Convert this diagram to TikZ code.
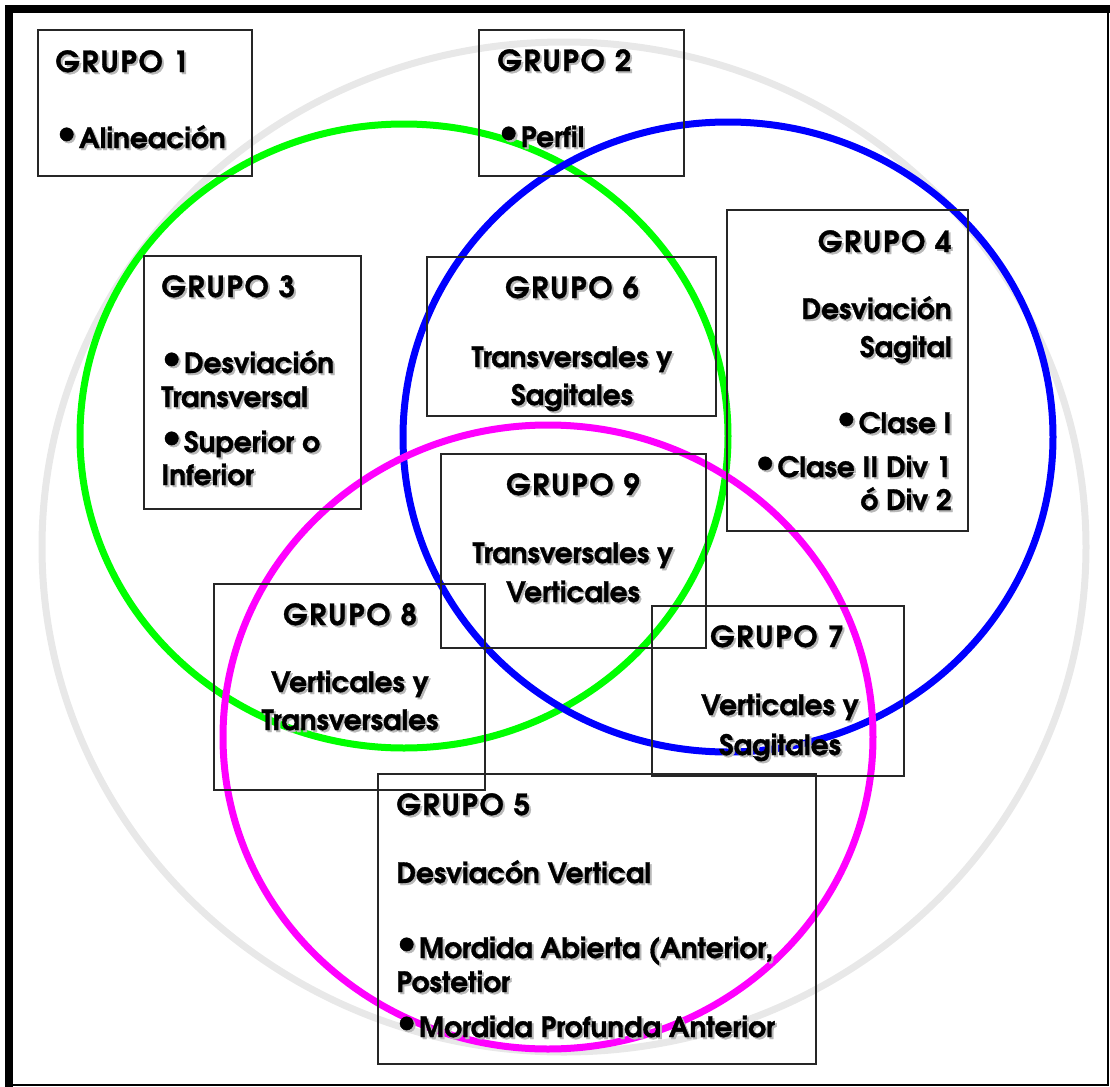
\documentclass[tikz,border=0pt]{standalone}
\usepackage{fontspec}
\setmainfont{TeX Gyre Adventor}[BoldFeatures={FakeBold=1.2}]
\usetikzlibrary{fit}
\definecolor{vgreen}{HTML}{00FF00}
\definecolor{vblue}{HTML}{0000FF}
\definecolor{vmagenta}{HTML}{FF00FF}
\definecolor{vgrey}{HTML}{E8E8E8}
\definecolor{vshadow}{HTML}{B8B8B8}
\tikzset{
  x=0.5pt, y=-0.5pt,
  ring/.style={line width=3.5pt},
  grpbox/.style={rectangle, draw=black!85, line width=1pt, inner sep=0pt},
  txt/.style={inner sep=0pt, font=\fontsize{14}{17}\selectfont\bfseries},
  head/.style={txt, font=\fontsize{14.5}{17}\selectfont\bfseries\addfontfeature{LetterSpace=6}},
  lt/.style={txt, anchor=base west},
  rt/.style={txt, anchor=base east},
  ct/.style={txt, anchor=base},
}
\newcommand{\shd}[1]{\makebox[0pt][l]{\hspace{1pt}\raisebox{-1pt}{\textcolor{vshadow}{#1}}}#1}
\newcommand{\bul}{\raisebox{2.8pt}{\fontsize{16}{16}\selectfont •}\hspace{1.5pt}}

\begin{document}
\begin{tikzpicture}
  \useasboundingbox (0,0) rectangle (1110,1087);
  % frame
  \draw[line width=0.8pt] (9,9) rectangle (1108,1085);
  \draw[line width=4pt] (9,1087) -- (9,9) -- (1110,9);
  % sets
  \draw[ring, vgrey] (564,547) ellipse [x radius=261pt, y radius=252.5pt];
  \draw[ring, vgreen] (404,436) ellipse [x radius=162pt, y radius=156pt];
  \draw[ring, vblue] (728,437) ellipse [x radius=162.5pt, y radius=157.5pt];
  \draw[ring, vmagenta] (548,737) ellipse [x radius=162.5pt, y radius=156pt];
  % boxes
  \node[grpbox, fit={(38,30) (252,176)}] (g1) {};
  \node[grpbox, fit={(479,30) (684,176)}] (g2) {};
  \node[grpbox, fit={(144,256) (361,509)}] (g3) {};
  \node[grpbox, fit={(727,210) (968,531)}] (g4) {};
  \node[grpbox, fit={(378,774) (816,1064)}] (g5) {};
  \node[grpbox, fit={(427,257) (716,416)}] (g6) {};
  \node[grpbox, fit={(652,606) (904,776)}] (g7) {};
  \node[grpbox, fit={(214,584) (485,790)}] (g8) {};
  \node[grpbox, fit={(441,454) (706,648)}] (g9) {};
  % grupo 1
  \node[lt, head] (g1t) at (55,72) {\shd{GRUPO 1}};
  \node[lt] (g1a) at (57,148) {\shd{\bul Alineación}};
  % grupo 2
  \node[lt, head] (g2t) at (497,71) {\shd{GRUPO 2}};
  \node[lt] (g2a) at (499,147) {\shd{\bul Perfil}};
  % grupo 3
  \node[lt, head] (g3t) at (161,297) {\shd{GRUPO 3}};
  \node[lt] (g3a) at (162,373) {\shd{\bul Desviación}};
  \node[lt] (g3b) at (161,407) {\shd{Transversal}};
  \node[lt] (g3c) at (162,452) {\shd{\bul Superior o}};
  \node[lt] (g3d) at (161,485) {\shd{Inferior}};
  % grupo 4
  \node[rt, head] (g4t) at (952,252) {\shd{GRUPO 4}};
  \node[rt] (g4a) at (952,319) {\shd{Desviación}};
  \node[rt] (g4b) at (952,357) {\shd{Sagital}};
  \node[rt] (g4c) at (952,433) {\shd{\bul Clase I}};
  \node[rt] (g4d) at (952,477) {\shd{\bul Clase II Div 1}};
  \node[rt] (g4e) at (952,510) {\shd{ó Div 2}};
  % grupo 5
  \node[lt, head] (g5t) at (396,815) {\shd{GRUPO 5}};
  \node[lt] (g5a) at (396,883) {\shd{Desviacón Vertical}};
  \node[lt] (g5b) at (397,958) {\shd{\bul Mordida Abierta (Anterior,}};
  \node[lt] (g5c) at (396,992) {\shd{Postetior}};
  \node[lt] (g5d) at (397,1037) {\shd{\bul Mordida Profunda Anterior}};
  % grupo 6
  \node[ct, head] (g6t) at (572,298) {\shd{GRUPO 6}};
  \node[ct] (g6a) at (572,367) {\shd{Transversales y}};
  \node[ct] (g6b) at (572,405) {\shd{Sagitales}};
  % grupo 7
  \node[ct, head] (g7t) at (777,647) {\shd{GRUPO 7}};
  \node[ct] (g7a) at (780,715) {\shd{Verticales y}};
  \node[ct] (g7b) at (780,755) {\shd{Sagitales}};
  % grupo 8
  \node[ct, head] (g8t) at (350,625) {\shd{GRUPO 8}};
  \node[ct] (g8a) at (350,692) {\shd{Verticales y}};
  \node[ct] (g8b) at (350,730) {\shd{Transversales}};
  % grupo 9
  \node[ct, head] (g9t) at (573,495) {\shd{GRUPO 9}};
  \node[ct] (g9a) at (573,563) {\shd{Transversales y}};
  \node[ct] (g9b) at (573,602) {\shd{Verticales}};
\end{tikzpicture}
\end{document}
